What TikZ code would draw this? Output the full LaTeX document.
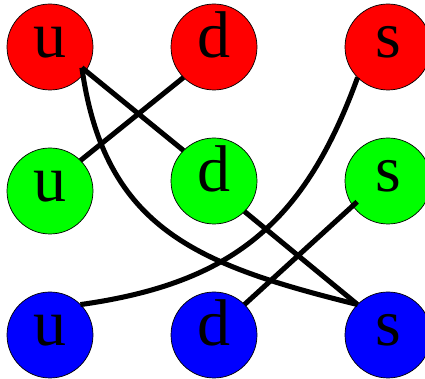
\documentclass[tikz,border=0pt]{standalone}
\usepackage{fontspec}
\setmainfont{Liberation Serif}
\usetikzlibrary{calc}
\definecolor{qred}{RGB}{255,0,0}
\definecolor{qgreen}{RGB}{0,255,0}
\definecolor{qblue}{RGB}{0,0,255}

\begin{document}
\begin{tikzpicture}[
    font=\fontsize{47}{52}\selectfont,
    quark/.style={circle, draw=black, line width=0.5pt, minimum size=2.15cm,
        inner sep=0pt, outer sep=0pt, text height=0.55cm, text depth=0cm},
    redq/.style={quark, fill=qred},
    greenq/.style={quark, fill=qgreen},
    blueq/.style={quark, fill=qblue},
    link/.style={line width=3.6pt}
]
\useasboundingbox (0,0) rectangle (10.625,9.475);

% === RED ROW ===
\node[redq] (ru) at (1.25,8.3) {u};
\node[redq] (rd) at (5.35,8.3) {d};
\node[redq] (rs) at (9.7,8.3) {s};

% === GREEN ROW ===
\node[greenq] (gu) at (1.25,4.7) {u};
\node[greenq] (gd) at (5.35,4.95) {d};
\node[greenq] (gs) at (9.7,4.95) {s};

% === BLUE ROW ===
\node[blueq] (bu) at (1.25,1.1) {u};
\node[blueq] (bd) at (5.35,1.1) {d};
\node[blueq] (bs) at (9.7,1.1) {s};

% inner end points
\coordinate (ruend) at ($(ru)+(-33:0.95)$);
\coordinate (gsend) at ($(gs)+(-146:0.93)$);

% Links
\draw[link] (rd.-135) -- (gu.45);
\draw[link] (ruend) -- (gd.135);
\draw[link] (ruend) to[out=-82, in=166, looseness=1.15] (bs.135);
\draw[link] (rs.-135) to[out=-110, in=8, looseness=1.1] (bu.45);
\draw[link] (gsend) -- (bd.45);
\draw[link] (gd.-45) -- (bs.135);

\end{tikzpicture}
\end{document}
